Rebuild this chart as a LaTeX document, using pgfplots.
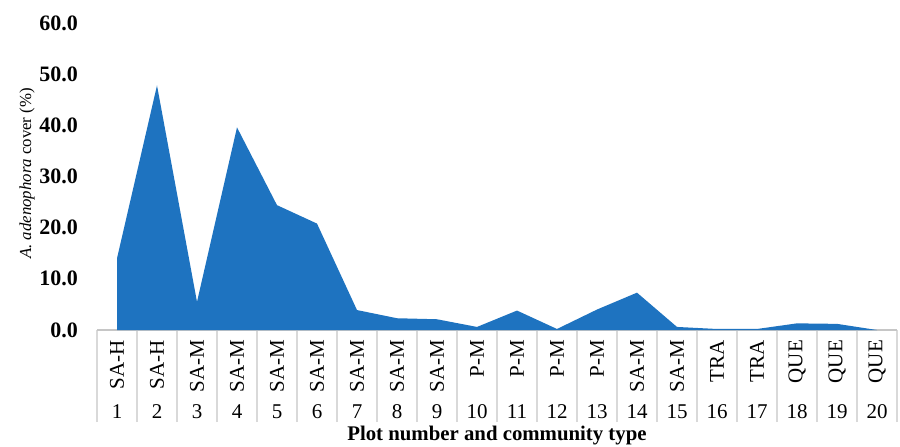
\documentclass[border=0pt]{standalone}
\usepackage{pgfplots}
\pgfplotsset{compat=1.18}
\usepackage{fontspec}
\setmainfont{Liberation Serif}
\definecolor{areablue}{RGB}{30,115,192}
\newcommand{\rl}[1]{\raisebox{-\height}{\rotatebox{90}{#1}}}
\begin{document}
\begin{tikzpicture}
\begin{axis}[
  scale only axis,
  width=400pt, height=153.5pt,
  xmin=0.5, xmax=20.5, ymin=0, ymax=60,
  enlargelimits=false,
  axis lines*=left,
  y axis line style={draw=none},
  x axis line style={draw=gray!45, line width=0.6pt},
  tick align=outside,
  major tick length=0pt,
  minor tick length=46pt,
  minor tick style={draw=gray!30, line width=0.6pt},
  xtick={1,...,20},
  xticklabels={1,2,3,4,5,6,7,8,9,10,11,12,13,14,15,16,17,18,19,20},
  xticklabel style={anchor=base, yshift=-44pt, font=\fontsize{10.5}{12}\selectfont},
  minor xtick={0.5,1.5,...,20.5},
  extra x ticks={1,...,20},
  extra x tick labels={\rl{SA-H},\rl{SA-H},\rl{SA-M},\rl{SA-M},\rl{SA-M},\rl{SA-M},\rl{SA-M},\rl{SA-M},\rl{SA-M},\rl{P-M},\rl{P-M},\rl{P-M},\rl{P-M},\rl{SA-M},\rl{SA-M},\rl{TRA},\rl{TRA},\rl{QUE},\rl{QUE},\rl{QUE}},
  extra x tick style={tick label style={yshift=39pt, font=\fontsize{9.5}{11}\selectfont}},
  ytick={0,10,...,60},
  yticklabel style={/pgf/number format/.cd, fixed, fixed zerofill, precision=1, assume math mode=true, /tikz/.cd, font=\bfseries\fontsize{11}{13}\selectfont, xshift=-6pt},
  ylabel={\textit{A. adenophora} cover (\%)},
  ylabel style={at={(axis description cs:0,0.5)}, anchor=center, yshift=35pt, xshift=1.5pt, font=\fontsize{8.4}{10}\selectfont},
  xlabel={Plot number and community type},
  xlabel style={at={(axis description cs:0.5,0)}, anchor=center, yshift=-53pt, font=\bfseries\fontsize{10.4}{12}\selectfont},
]
\addplot[fill=areablue, draw=none] coordinates {
  (1,14.0) (2,47.8) (3,5.5) (4,39.6) (5,24.4) (6,20.8) (7,3.9) (8,2.3) (9,2.1) (10,0.6)
  (11,3.8) (12,0.2) (13,4.0) (14,7.3) (15,0.6) (16,0.2) (17,0.2) (18,1.3) (19,1.2) (20,0.0)
} \closedcycle;
\coordinate (bl) at (rel axis cs:0,0);
\end{axis}
\pgfresetboundingbox
\path[use as bounding box] (bl) ++(-48.5pt,-58pt) rectangle ++(450pt,223pt);
\end{tikzpicture}
\end{document}
